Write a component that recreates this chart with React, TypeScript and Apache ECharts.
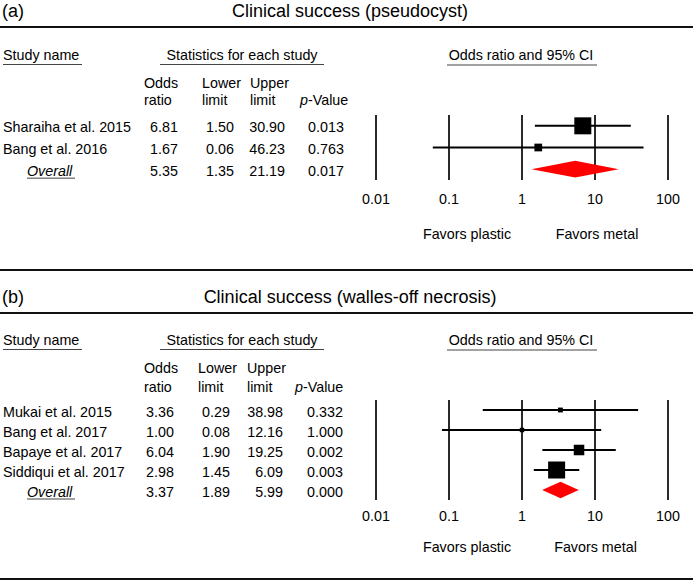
import { useEffect, useRef } from "react";
import * as echarts from "echarts";

// ---------- data ----------
const tickLabels = ["0.01", "0.1", "1", "10", "100"];

// Panel (a) – pseudocyst
const titleA = "Clinical success (pseudocyst)";
const studiesA = ["Sharaiha et al. 2015", "Bang et al. 2016"];
const oddsA = [6.81, 1.67];
const lowerA = [1.5, 0.06];
const upperA = [30.9, 46.23];
const pA = [0.013, 0.763];
const weightsA = [82.9, 17.1];
const overallA = [5.35, 1.35, 21.19, 0.017]; // odds ratio, lower, upper, p

// Panel (b) – walled-off necrosis
const titleB = "Clinical success (walles-off necrosis)";
const studiesB = ["Mukai et al. 2015", "Bang et al. 2017", "Bapaye et al. 2017", "Siddiqui et al. 2017"];
const oddsB = [3.36, 1.0, 6.04, 2.98];
const lowerB = [0.29, 0.08, 1.9, 1.45];
const upperB = [38.98, 12.16, 19.25, 6.09];
const pB = [0.332, 1.0, 0.002, 0.003];
const weightsB = [5.3, 4.5, 25.0, 65.2];
const overallB = [3.37, 1.89, 5.99, 0.0];

// ---------- layout ----------
const FONT = "'Liberation Sans', Arial, Helvetica, sans-serif";
const FS = 14.3;

const layoutA = {
  titleY: 11, ruleY: 27, headY: 55, headLineY: 64.5, oddsY: 83, ratioY: 100,
  gridTop: 115, gridH: 65, tickMargin: 12, favorsY: 234, textDy: 1.5,
  cols: { odds: 164, lower: 220, upper: 285, p: 326, hOdds: 144, hLower: 202, hUpper: 250, hP: 300 },
  favMetal: 597,
};
const layoutB = {
  titleY: 297, ruleY: 313, headY: 340, headLineY: 349.5, oddsY: 368, ratioY: 387,
  gridTop: 400, gridH: 100, tickMargin: 9, favorsY: 547, textDy: 1.5,
  cols: { odds: 160, lower: 216, upper: 283, p: 325, hOdds: 144, hLower: 198, hUpper: 247, hP: 295 },
  favMetal: 595.5,
};

function txt(x: number, y: number, text: string, align = "left", extra: any = {}) {
  return {
    type: "text",
    x,
    y,
    silent: true,
    style: {
      text,
      fontSize: FS,
      fontFamily: FONT,
      fill: "#000",
      align,
      verticalAlign: "middle",
      ...extra,
    },
  };
}
function hline(x1: number, x2: number, y: number, w = 1, c = "#444") {
  return { type: "line", silent: true, shape: { x1, y1: y, x2, y2: y }, style: { stroke: c, lineWidth: w } };
}

function panelGraphics(
  label: string, title: string, names: string[], odds: number[], lower: number[],
  upper: number[], p: number[], overall: number[], L: any
) {
  const els: any[] = [];
  const C = L.cols;
  els.push(txt(2, L.titleY, label, "left", { fontSize: 18 }));
  els.push(txt(350, L.titleY, title, "center", { fontSize: 18 }));
  els.push(hline(0, 693, L.ruleY, 2, "#111"));

  els.push(txt(3, L.headY, "Study name"));
  els.push(hline(3, 82, L.headLineY));
  els.push(txt(242, L.headY, "Statistics for each study", "center"));
  els.push(hline(160, 324, L.headLineY));
  els.push(txt(521, L.headY, "Odds ratio and 95% CI", "center"));
  els.push(hline(447, 597, L.headLineY + 0.5));

  els.push(txt(C.hOdds, L.oddsY, "Odds"));
  els.push(txt(C.hOdds, L.ratioY, "ratio"));
  els.push(txt(C.hLower, L.oddsY, "Lower"));
  els.push(txt(C.hLower, L.ratioY, "limit"));
  els.push(txt(C.hUpper, L.oddsY, "Upper"));
  els.push(txt(C.hUpper, L.ratioY, "limit"));
  els.push(txt(C.hP, L.ratioY, "p", "left", { fontStyle: "italic" }));
  els.push(txt(C.hP + 8, L.ratioY, "-Value"));

  const n = names.length + 1;
  const rowH = L.gridH / n;
  const rowY = (i: number) => L.gridTop + (i + 0.5) * rowH + L.textDy;
  names.forEach((nm, i) => {
    const y = rowY(i);
    els.push(txt(3, y, nm));
    els.push(txt(C.odds, y, odds[i].toFixed(2), "center"));
    els.push(txt(C.lower, y, lower[i].toFixed(2), "center"));
    els.push(txt(C.upper, y, upper[i].toFixed(2), "right"));
    els.push(txt(C.p, y, p[i].toFixed(3), "center"));
  });
  const yo = rowY(names.length);
  els.push(txt(27, yo, "Overall", "left", { fontStyle: "italic" }));
  els.push(hline(27, 75, yo + 7.5));
  els.push(txt(C.odds, yo, overall[0].toFixed(2), "center"));
  els.push(txt(C.lower, yo, overall[1].toFixed(2), "center"));
  els.push(txt(C.upper, yo, overall[2].toFixed(2), "right"));
  els.push(txt(C.p, yo, overall[3].toFixed(3), "center"));

  els.push(txt(467, L.favorsY, "Favors plastic", "center"));
  els.push(txt(L.favMetal, L.favorsY, "Favors metal", "center"));
  return els;
}

function studySeries(idx: number, names: string[], odds: number[], lower: number[], upper: number[], weights: number[]) {
  const maxW = Math.max(...weights);
  return {
    type: "custom",
    xAxisIndex: idx,
    yAxisIndex: idx,
    silent: true,
    data: names.map((_, i) => [odds[i], lower[i], upper[i], i, weights[i]]),
    encode: { x: [0, 1, 2], y: 3 },
    renderItem: (_p: any, api: any) => {
      const row = api.value(3);
      const c = api.coord([api.value(0), row]);
      const l = api.coord([api.value(1), row]);
      const u = api.coord([api.value(2), row]);
      const s = 17 * Math.sqrt(api.value(4) / maxW);
      return {
        type: "group",
        children: [
          { type: "line", shape: { x1: l[0], y1: c[1], x2: u[0], y2: c[1] }, style: { stroke: "#000", lineWidth: 2 } },
          { type: "rect", shape: { x: c[0] - s / 2, y: c[1] - s / 2, width: s, height: s }, style: { fill: "#000" } },
        ],
      };
    },
  };
}

function overallSeries(idx: number, row: number, overall: number[], half: number) {
  return {
    type: "custom",
    xAxisIndex: idx,
    yAxisIndex: idx,
    silent: true,
    data: [[overall[0], overall[1], overall[2], row]],
    encode: { x: [0, 1, 2], y: 3 },
    renderItem: (_p: any, api: any) => {
      const r = api.value(3);
      const c = api.coord([api.value(0), r]);
      const l = api.coord([api.value(1), r]);
      const u = api.coord([api.value(2), r]);
      return {
        type: "polygon",
        shape: { points: [[l[0], c[1]], [c[0], c[1] - half], [u[0], c[1]], [c[0], c[1] + half]] },
        style: { fill: "#ff0000" },
      };
    },
  };
}

function xAxisFor(idx: number, margin: number) {
  return {
    type: "log",
    logBase: 10,
    gridIndex: idx,
    min: 0.01,
    max: 100,
    axisLine: { show: false },
    axisTick: { show: false },
    splitLine: { show: true, lineStyle: { color: "#2a2a2a", width: 2 } },
    axisLabel: {
      margin,
      color: "#000",
      fontSize: FS,
      fontFamily: FONT,
      formatter: (v: number) =>
        tickLabels.find((t) => Math.abs(Math.log10(Number(t)) - Math.log10(v)) < 1e-6) ?? "",
    },
  };
}

export default function App() {
  const ref = useRef<HTMLDivElement>(null);
  useEffect(() => {
    if (!ref.current) return;
    const chart = echarts.init(ref.current, undefined, { renderer: "svg" });
    const nA = studiesA.length + 1;
    const nB = studiesB.length + 1;
    chart.setOption({
      animation: false,
      backgroundColor: "#fff",
      grid: [
        { left: 376, width: 292, top: layoutA.gridTop, height: layoutA.gridH },
        { left: 376, width: 292, top: layoutB.gridTop, height: layoutB.gridH },
      ],
      xAxis: [xAxisFor(0, layoutA.tickMargin), xAxisFor(1, layoutB.tickMargin)],
      yAxis: [
        { type: "value", gridIndex: 0, inverse: true, min: -0.5, max: nA - 0.5, show: false },
        { type: "value", gridIndex: 1, inverse: true, min: -0.5, max: nB - 0.5, show: false },
      ],
      series: [
        studySeries(0, studiesA, oddsA, lowerA, upperA, weightsA),
        overallSeries(0, studiesA.length, overallA, 8.4),
        studySeries(1, studiesB, oddsB, lowerB, upperB, weightsB),
        overallSeries(1, studiesB.length, overallB, 8.3),
      ],
      graphic: [
        ...panelGraphics("(a)", titleA, studiesA, oddsA, lowerA, upperA, pA, overallA, layoutA),
        ...panelGraphics("(b)", titleB, studiesB, oddsB, lowerB, upperB, pB, overallB, layoutB),
        hline(0, 693, 270, 2, "#111"),
        hline(0, 693, 579, 2, "#111"),
      ],
    });
    return () => chart.dispose();
  }, []);
  return (
    <div
      ref={ref}
      style={{ position: "fixed", left: 0, top: 0, width: 695, height: 582, background: "#fff" }}
    />
  );
}
